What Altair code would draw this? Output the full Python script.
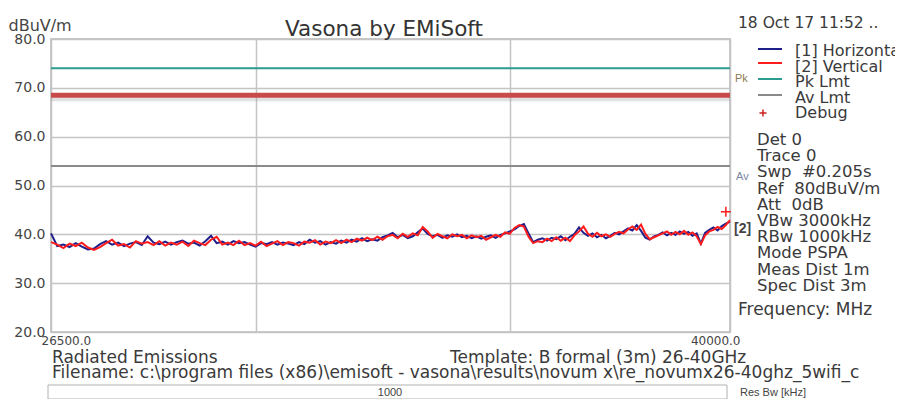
import altair as alt
import pandas as pd

# ---------------- data ----------------
freq_mhz = [
    26500, 26600, 26700, 26800, 26900, 27000, 27100, 27200, 27300, 27400,
    27500, 27600, 27700, 27800, 27900, 28000, 28100, 28200, 28300, 28400,
    28500, 28600, 28700, 28800, 28900, 29000, 29100, 29200, 29300, 29400,
    29500, 29600, 29700, 29800, 29900, 30000, 30100, 30200, 30300, 30400,
    30500, 30600, 30700, 30800, 30900, 31000, 31100, 31200, 31300, 31400,
    31500, 31600, 31700, 31800, 31900, 32000, 32100, 32200, 32300, 32400,
    32500, 32600, 32700, 32800, 32900, 33000, 33100, 33200, 33300, 33400,
    33500, 33600, 33700, 33800, 33900, 34000, 34100, 34200, 34300, 34400,
    34500, 34600, 34700, 34800, 34900, 35000, 35100, 35200, 35300, 35400,
    35500, 35600, 35700, 35800, 35900, 36000, 36100, 36200, 36300, 36400,
    36500, 36600, 36700, 36800, 36900, 37000, 37100, 37200, 37300, 37400,
    37500, 37600, 37700, 37800, 37900, 38000, 38100, 38200, 38300, 38400,
    38500, 38600, 38700, 38800, 38900, 39000, 39100, 39200, 39300, 39400,
    39500, 39600, 39700, 39800, 39900, 40000,
]

horizontal_dbuv = [
    40.2, 37.6, 37.9, 37.4, 38.2, 37.5, 36.9, 37.1, 38.0, 38.6,
    37.9, 38.3, 37.6, 38.1, 38.4, 37.8, 39.6, 38.3, 38.0, 38.5,
    37.9, 38.4, 38.7, 38.1, 38.3, 37.7, 38.6, 39.7, 38.2, 38.5,
    37.9, 38.6, 38.2, 38.4, 37.9, 37.5, 38.2, 38.0, 38.4, 37.9,
    38.3, 38.1, 37.8, 38.4, 38.0, 38.9, 38.3, 38.6, 37.9, 38.4,
    38.1, 38.7, 38.3, 38.9, 38.5, 39.2, 38.6, 39.0, 38.7, 39.4,
    39.8, 40.3, 39.4, 39.9, 39.2, 39.6, 40.4, 41.2, 40.1, 39.6,
    39.9, 39.3, 39.8, 39.5, 40.0, 39.4, 39.7, 39.2, 39.6, 39.1,
    39.5, 39.8, 39.3, 39.9, 40.2, 40.6, 41.0, 41.7, 42.1, 40.2,
    38.4, 38.9, 39.2, 38.7, 39.3, 39.0, 39.6, 38.8, 39.5, 40.1,
    41.4, 40.3, 39.7, 40.2, 39.4, 39.9, 39.2, 39.7, 40.3, 40.0,
    40.6, 41.2, 40.8, 41.9, 40.7, 39.3, 38.9, 39.6, 39.9, 40.4,
    39.8, 40.3, 39.9, 40.6, 40.1, 40.5, 39.7, 40.2, 38.1, 40.3,
    40.9, 41.4, 40.8, 41.7, 42.2, 42.6,
]

vertical_dbuv = [
    38.4, 37.9, 37.2, 38.1, 37.6, 38.3, 37.3, 36.8, 37.4, 38.2,
    38.9, 37.7, 38.0, 37.3, 38.6, 38.1, 38.4, 37.8, 38.6, 37.7,
    38.3, 37.9, 38.5, 37.6, 38.7, 38.2, 37.8, 38.9, 39.5, 37.9,
    38.3, 37.8, 38.7, 37.8, 38.2, 37.7, 38.5, 37.6, 38.1, 38.6,
    37.8, 38.4, 38.2, 37.7, 38.5, 38.3, 38.8, 37.9, 38.5, 38.2,
    38.8, 38.2, 38.9, 38.4, 39.1, 38.7, 39.3, 38.8, 39.5, 38.9,
    39.6, 39.9, 39.2, 40.1, 39.5, 40.2, 39.8, 41.5, 40.6, 39.3,
    40.1, 39.6, 39.2, 40.0, 39.6, 39.9, 39.2, 39.8, 39.4, 39.7,
    38.9, 39.4, 39.9, 39.5, 40.4, 40.1, 41.3, 41.9, 41.6, 39.5,
    38.2, 38.6, 38.4, 39.1, 38.6, 39.4, 38.7, 39.3, 38.6, 39.8,
    40.6, 41.6, 40.1, 39.5, 40.3, 39.6, 40.0, 39.5, 40.1, 40.5,
    40.2, 41.0, 41.6, 40.9, 42.0, 40.1, 39.0, 39.4, 39.8, 40.2,
    40.6, 39.9, 40.5, 40.0, 40.7, 39.9, 40.4, 39.6, 38.0, 39.8,
    40.6, 40.9, 41.5, 41.1, 41.9, 42.9,
]

y_ticks = [20, 30, 40, 50, 60, 70, 80]
x_grid = [26500, 30000, 35000, 40000]
limit_names = ["Pk Lmt", "Av Lmt"]
limit_levels = [74.0, 54.0]
marker_level = [68.5]
debug_freq = [39900]
debug_level = [44.6]

legend_labels = ["[1] Horizontal", "[2] Vertical", "Pk Lmt", "Av Lmt", "Debug"]
info_lines = [
    "Det 0", "Trace 0", "Swp\u00a0 #0.205s", "Ref\u00a0 80dBuV/m", "Att\u00a0 0dB",
    "VBw 3000kHz", "RBw 1000kHz", "Mode PSPA", "Meas Dist 1m", "Spec Dist 3m",
]

# ---------------- styling ----------------
W, H = 679, 293
FONT = "DejaVu Sans"
SMALL_FONT = "Liberation Sans"
GRID = "#c4c4c4"
BLUE = "#1f1f8c"
RED = "#ff1c1c"
TEAL = "#2a9d8f"
GRAY = "#8a8a8a"
THICK_RED = "#c94a4a"
TXT = "#3a3a3a"

x_scale = alt.Scale(type="log", domain=[26500, 40000], nice=False)
y_scale = alt.Scale(domain=[20, 80], nice=False)

x_axis = alt.Axis(
    values=x_grid, grid=True, gridColor=GRID, gridWidth=1.5, domain=False, ticks=False,
    labelExpr="datum.value == 26500 || datum.value == 40000 ? format(datum.value, '.1f') : ''",
    labelFlush=True, labelFlushOffset=10, labelOverlap=False, labelFont=FONT,
    labelFontSize=12, labelColor="#444", labelPadding=3, title=None,
)
y_axis = alt.Axis(
    values=y_ticks, format=".1f", grid=True, gridColor=GRID, gridWidth=1.5,
    domain=False, ticks=False, labelOverlap=False, labelFont=FONT, labelFontSize=14,
    labelColor="#444", labelPadding=6,
    title="dBuV/m", titleAngle=0, titleAlign="left", titleBaseline="alphabetic",
    titleX=-43, titleY=-9, titleFont=FONT, titleFontSize=16,
    titleFontWeight="normal", titleColor="#444",
)

h_df = pd.DataFrame({"freq": freq_mhz, "level": horizontal_dbuv})
v_df = pd.DataFrame({"freq": freq_mhz, "level": vertical_dbuv})
lim_df = pd.DataFrame({"name": limit_names, "level": limit_levels})
mk_df = pd.DataFrame({"level": marker_level})
dbg_df = pd.DataFrame({"freq": debug_freq, "level": debug_level})
one = pd.DataFrame({"k": [0]})

X = alt.X("freq:Q", scale=x_scale, axis=x_axis)
Y = alt.Y("level:Q", scale=y_scale, axis=y_axis)

base_h = alt.Chart(h_df).mark_line(color=BLUE, strokeWidth=2).encode(x=X, y=Y)
base_v = alt.Chart(v_df).mark_line(color=RED, strokeWidth=2).encode(
    x=alt.X("freq:Q", scale=x_scale), y=alt.Y("level:Q", scale=y_scale))

limits = alt.Chart(lim_df).mark_rule(strokeWidth=2).encode(
    y=alt.Y("level:Q", scale=y_scale),
    color=alt.Color("name:N", scale=alt.Scale(domain=limit_names, range=[TEAL, GRAY]), legend=None),
)
shadow = alt.Chart(mk_df).mark_rule(strokeWidth=4, color="#9a9a9a", opacity=0.3, yOffset=4).encode(
    y=alt.Y("level:Q", scale=y_scale))
marker = alt.Chart(mk_df).mark_rule(strokeWidth=5, color=THICK_RED).encode(
    y=alt.Y("level:Q", scale=y_scale))
debug = alt.Chart(dbg_df).mark_point(
    shape="M-1,0H1M0,-1V1", size=100, color=RED, strokeWidth=1.5, filled=False, opacity=1
).encode(x=alt.X("freq:Q", scale=x_scale), y=alt.Y("level:Q", scale=y_scale))


def txt(text, x, y, size=17, color=TXT, align="left", weight="normal", font=FONT, **kw):
    return alt.Chart(one).mark_text(
        text=text, font=font, fontSize=size, color=color, align=align,
        baseline="alphabetic", fontWeight=weight, **kw
    ).encode(x=alt.value(x), y=alt.value(y))


def seg(x1, x2, y, color, width=2):
    return alt.Chart(one).mark_rule(color=color, strokeWidth=width).encode(
        x=alt.value(x1), x2=alt.value(x2), y=alt.value(y))


annotations = [
    txt("Vasona by EMiSoft", 333, -3, size=21.5, color="#333", align="center"),
    txt("18 Oct 17 11:52 ..", 687, -11, size=15.5),
    seg(707, 731, 10, BLUE),
    seg(707, 731, 24, RED),
    seg(707, 731, 40, TEAL),
    seg(707, 731, 56, GRAY),
    alt.Chart(one).mark_point(shape="M-1,0H1M0,-1V1", size=50, color="#d02020",
                              strokeWidth=1.5, opacity=1).encode(x=alt.value(712), y=alt.value(74)),
    txt(legend_labels, 744, 17, size=16, lineHeight=15.5),
    txt(info_lines, 706, 106, size=16.5, lineHeight=16.2),
    txt("Frequency: MHz", 687, 276, size=17),
    txt("Pk", 684, 43, size=11, color="#8c7a50", font=SMALL_FONT),
    txt("Av", 685, 141, size=11, color="#7a889c", font=SMALL_FONT),
    txt("[2]", 683, 194, size=14, color="#444", weight="bold", font=SMALL_FONT),
    txt("Radiated Emissions", 1, 324, size=17),
    txt("Template: B formal (3m) 26-40GHz", 399, 324, size=17),
    txt("Filename: c:\\program files (x86)\\emisoft - vasona\\results\\novum x\\re_novumx26-40ghz_5wifi_c", 1, 339, size=17),
    alt.Chart(one).mark_rect(fill="white", stroke="#b0b0b0", strokeWidth=1).encode(
        x=alt.value(-3), x2=alt.value(676), y=alt.value(346), y2=alt.value(360)),
    txt("1000", 339, 357, size=11, color="#444", align="center", font=SMALL_FONT),
    txt("Res Bw [kHz]", 689, 357, size=11, color="#444", font=SMALL_FONT),
]

chart = alt.layer(
    base_h, limits, shadow, marker, base_v, debug, *annotations
).properties(
    width=W, height=H,
    padding={"left": 43, "top": 31, "right": 165, "bottom": 67},
    autosize=alt.AutoSizeParams(type="none"),
    background="white",
).configure_view(stroke="#c8c8c8", strokeWidth=2)

chart.save("out.html", embed_options={"renderer": "svg", "actions": False})
